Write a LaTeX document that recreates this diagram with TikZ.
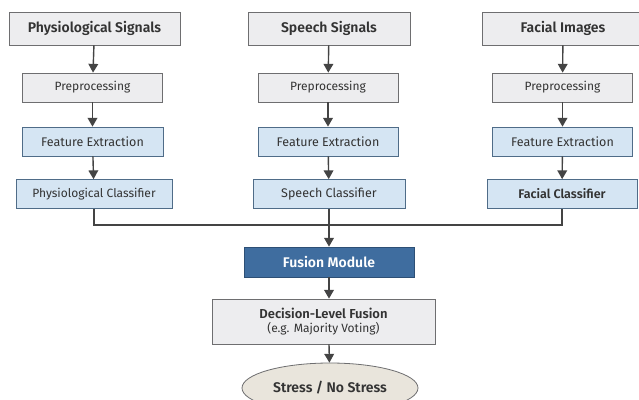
\documentclass[tikz,border=0pt]{standalone}
\usepackage{fontspec}
\setmainfont{Fira Sans}[BoldFont={Fira Sans SemiBold}]
\usetikzlibrary{arrows,shapes}

\definecolor{greyfill}{HTML}{EDEDEF}
\definecolor{greyline}{HTML}{6E6E70}
\definecolor{bluefill}{HTML}{D5E5F3}
\definecolor{blueline}{HTML}{4F6C88}
\definecolor{fusefill}{HTML}{3F6D9F}
\definecolor{fuseline}{HTML}{2D4F75}
\definecolor{beige}{HTML}{E9E5DC}
\definecolor{wirecol}{HTML}{444444}
\definecolor{txt}{HTML}{333333}

\begin{document}
\begin{tikzpicture}[>=triangle 60,x=1pt,y=-1pt,
  greybox/.style={draw=greyline,fill=greyfill,line width=0.8pt,inner sep=0pt,
    text=txt,font=\fontsize{12}{14}\selectfont},
  headbox/.style={greybox,minimum height=33pt,font=\bfseries\fontsize{14}{16}\selectfont},
  prebox/.style={greybox,minimum height=29pt,minimum width=140pt},
  bluebox/.style={greybox,draw=blueline,fill=bluefill,minimum height=29pt,
    font=\fontsize{12.5}{14}\selectfont},
  wire/.style={draw=wirecol,line width=1.4pt}]
\useasboundingbox (0,0) rectangle (639,399);

% inputs
\node[headbox,minimum width=171pt] (sig_0) at (94.5,28.5) {Physiological Signals};
\node[headbox,minimum width=162pt] (sig_1) at (329,28.5) {Speech Signals};
\node[headbox,minimum width=162pt] (sig_2) at (563,28.5) {Facial Images};

\node[prebox] (pre_0) at (92.5,87.5) {Preprocessing};
\node[prebox] (pre_1) at (328,87.5) {Preprocessing};
\node[prebox] (pre_2) at (562.5,87.5) {Preprocessing};

\node[bluebox,minimum width=141pt] (feat_0) at (92.5,141.5) {Feature Extraction};
\node[bluebox,minimum width=140pt] (feat_1) at (328,141.5) {Feature Extraction};
\node[bluebox,minimum width=140pt] (feat_2) at (562.5,141.5) {Feature Extraction};

\node[bluebox,minimum width=156pt,font=\fontsize{12}{14}\selectfont] (cls_0) at (94,194) {Physiological Classifier};
\node[bluebox,minimum width=152pt] (cls_1) at (329,194) {Speech Classifier};
\node[bluebox,minimum width=150pt,font=\bfseries\fontsize{12.5}{14}\selectfont] (cls_2) at (562,194) {Facial Classifier};

% fusion
\coordinate (bus) at (329,225);
\node[greybox,draw=fuseline,fill=fusefill,text=white,minimum width=170pt,minimum height=30pt,
  font=\bfseries\fontsize{14}{16}\selectfont] (fuse) at (329,262) {Fusion Module};
\node[greybox,minimum width=223pt,minimum height=45pt,align=center] (dec) at (323.5,321.5)
  {{\bfseries\fontsize{13}{16}\selectfont Decision-Level Fusion}\\(e.g. Majority Voting)};
\node[ellipse,draw=greyline,fill=beige,line width=0.8pt,inner sep=0pt,minimum width=176pt,
  minimum height=50pt,text=txt,font=\bfseries\fontsize{14}{16}\selectfont] (out) at (330,388) {Stress / No Stress};

\draw[wire,->] (sig_0) -- (pre_0);
\draw[wire,->] (pre_0) -- (feat_0);
\draw[wire,->] (feat_0) -- (cls_0);
\draw[wire,->] (sig_1) -- (pre_1);
\draw[wire,->] (pre_1) -- (feat_1);
\draw[wire,->] (feat_1) -- (cls_1);
\draw[wire,->] (sig_2) -- (pre_2);
\draw[wire,->] (pre_2) -- (feat_2);
\draw[wire,->] (feat_2) -- (cls_2);

\draw[wire] (cls_0) |- (bus) -| (cls_2);
\draw[wire] (cls_1) -- (bus);
\draw[wire,->] (bus) -- (fuse);
\draw[wire,->] (fuse.south -| bus) -- (dec.north -| bus);
\draw[wire,->] (dec.south -| bus) -- (out);

\end{tikzpicture}
\end{document}
